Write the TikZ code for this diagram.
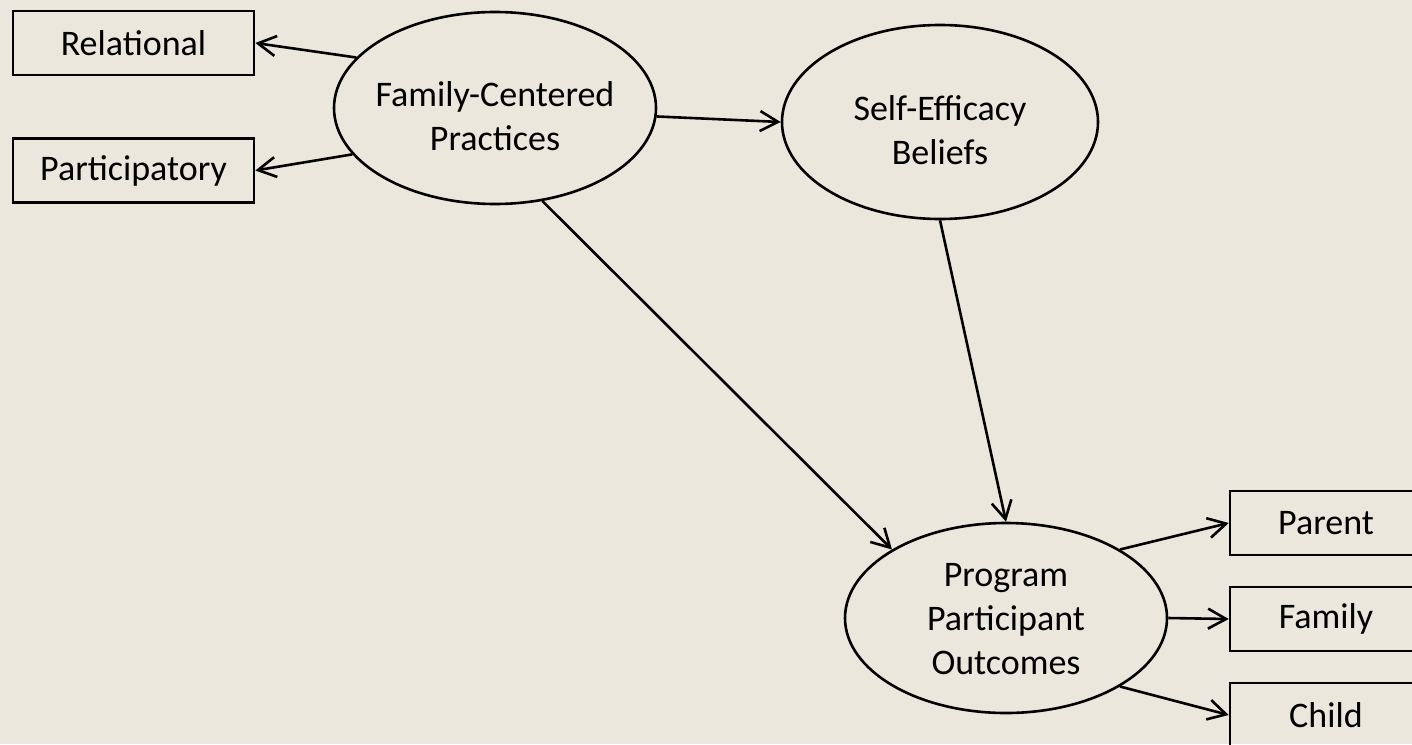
\documentclass[tikz,border=0pt]{standalone}
\usepackage{fontspec}
\setmainfont{Carlito}
\usetikzlibrary{arrows.meta,shapes.geometric}
\definecolor{paper}{RGB}{236,231,220}
\begin{document}
\begin{tikzpicture}[x=0.5pt,y=-0.5pt,
  every node/.style={font=\fontsize{18}{22}\selectfont},
  oval/.style={draw,line width=1.3pt,ellipse,inner sep=0pt},
  ovaltext/.style={align=center,inner sep=0pt},
  measure/.style={draw,line width=1.3pt,rectangle,inner sep=0pt,minimum height=32pt},
  link/.style={line width=1.3pt,-{Straight Barb[length=9pt,width=10pt,line width=1.3pt]}}]
  % paper
  \fill[paper] (0,0) rectangle (1412,744);
  \useasboundingbox (0,0) rectangle (1412,744);
  \clip (0,0) rectangle (1412,744);

  % latent constructs
  \node[oval,minimum width=161pt,minimum height=96pt] (fcp) at (495,108) {};
  \node[ovaltext] (fcplabel) at (495,116) {Family-Centered\\Practices};
  \node[oval,minimum width=158pt,minimum height=97pt] (self) at (940,122) {};
  \node[ovaltext] (selflabel) at (940,130) {Self-Efficacy\\Beliefs};
  \node[oval,minimum width=161pt,minimum height=95pt] (prog) at (1006,618) {};
  \node[ovaltext] (proglabel) at (1006,619) {Program\\Participant\\Outcomes};

  % indicators
  \node[measure,minimum width=120.5pt] (rel) at (133.5,43) {Relational};
  \node[measure,minimum width=120.5pt] (part) at (133.5,170.5) {Participatory};
  \node[measure,minimum width=96pt] (parent) at (1326,523) {Parent};
  \node[measure,minimum width=96pt] (family) at (1326,619) {Family};
  \node[measure,minimum width=96pt] (child) at (1326,715) {Child};

  % paths
  \draw[link] (fcp.160) -- (rel.east);
  \draw[link] (fcp.198) -- (part.east);
  \draw[link] (fcp.-3) -- (self.west);
  \draw[link] (fcp.297) -- (prog.149);
  \draw[link] (self.270) -- (prog.north);
  \draw[link] (prog.31) -- (parent.west);
  \draw[link] (prog.east) -- (family.west);
  \draw[link] (prog.-31) -- (child.west);
\end{tikzpicture}
\end{document}
